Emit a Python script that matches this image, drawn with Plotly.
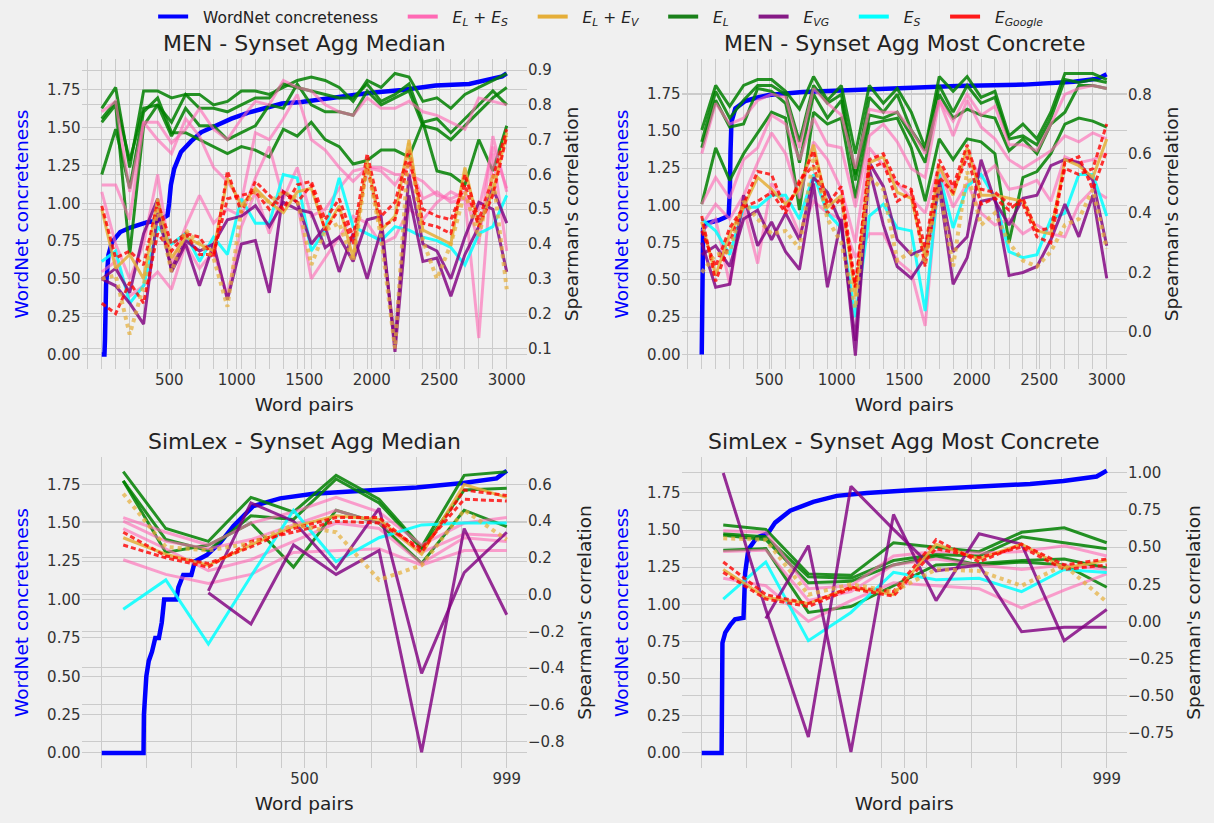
import plotly.graph_objects as go

# ------------------------------------------------------------------ data
# word-pair positions of the correlation points
men_pairs = [0, 103, 207, 310, 414, 517, 621, 724, 828, 931, 1034, 1138, 1241, 1345, 1448,
             1552, 1655, 1759, 1862, 1966, 2069, 2172, 2276, 2379, 2483, 2586, 2690, 2793, 2897, 3000]
simlex_pairs = [53, 158, 263, 368, 473, 578, 684, 789, 894, 999]

# x ticks (gridlines) and labelled ticks
men_grid = [-103, 0, 103, 207, 310, 414, 517, 621, 724, 828, 931, 1034, 1138, 1241, 1345, 1448,
            1552, 1655, 1759, 1862, 1966, 2069, 2172, 2276, 2379, 2483, 2586, 2690, 2793, 2897, 3000]
men_labels = [500, 1000, 1500, 2000, 2500, 3000]
simlex_grid = [0, 111, 222, 333, 444, 555, 666, 777, 888, 999]
simlex_labels = [500, 999]

# ---- WordNet concreteness (sorted) ----
men_med_wn_x = [0, 20, 24, 28, 32, 50, 75, 100, 137, 212, 337, 424, 487, 499, 512, 537, 587, 661, 736,
                836, 961, 1086, 1211, 1335, 1480, 1727, 1978, 2225, 2474, 2722, 2866, 2966, 2999]
men_med_wn_y = [0.0, 0.0, 0.10, 0.30, 0.46, 0.66, 0.74, 0.77, 0.81, 0.84, 0.875, 0.886, 0.92, 1.0, 1.12,
                1.23, 1.34, 1.41, 1.47, 1.51, 1.56, 1.60, 1.63, 1.66, 1.67, 1.70, 1.73, 1.75, 1.78, 1.79,
                1.82, 1.84, 1.86]
men_mc_wn_x = [0, 6, 10, 37, 124, 199, 208, 213, 220, 249, 323, 398, 497, 746, 995, 1467, 1890, 2388,
               2756, 2934, 2999]
men_mc_wn_y = [0.0, 0.45, 0.84, 0.88, 0.90, 0.93, 1.09, 1.36, 1.56, 1.65, 1.70, 1.72, 1.74, 1.76, 1.77,
               1.79, 1.80, 1.81, 1.83, 1.85, 1.88]
sl_med_wn_x = [0, 103, 104, 110, 116, 124, 132, 141, 148, 154, 184, 189, 201, 221, 230, 259, 292, 325,
               374, 440, 522, 662, 777, 892, 974, 999]
sl_med_wn_y = [0.0, 0.0, 0.25, 0.5, 0.6, 0.66, 0.75, 0.75, 0.85, 1.0, 1.0, 1.08, 1.16, 1.16, 1.25, 1.29,
               1.37, 1.48, 1.61, 1.66, 1.69, 1.71, 1.73, 1.76, 1.79, 1.84]
sl_mc_wn_x = [0, 49, 51, 58, 70, 82, 103, 107, 115, 136, 164, 181, 218, 275, 333, 407, 522, 670, 810,
              892, 974, 999]
sl_mc_wn_y = [0.0, 0.0, 0.74, 0.81, 0.86, 0.90, 0.91, 1.21, 1.37, 1.45, 1.48, 1.55, 1.63, 1.69, 1.73,
              1.75, 1.77, 1.79, 1.81, 1.83, 1.86, 1.90]

# ---- MEN - Synset Agg Median : Spearman's correlation ----
men_med_EL = [
    [0.79, 0.85, 0.62, 0.84, 0.84, 0.82, 0.83, 0.83, 0.80, 0.81, 0.84, 0.84, 0.83, 0.85, 0.87,
     0.88, 0.87, 0.85, 0.81, 0.87, 0.85, 0.89, 0.88, 0.81, 0.82, 0.79, 0.83, 0.85, 0.87, 0.89],
    [0.76, 0.81, 0.64, 0.79, 0.80, 0.75, 0.83, 0.79, 0.79, 0.78, 0.80, 0.82, 0.82, 0.86, 0.85,
     0.84, 0.83, 0.82, 0.82, 0.86, 0.81, 0.83, 0.86, 0.75, 0.76, 0.72, 0.76, 0.80, 0.84, 0.80],
    [0.75, 0.80, 0.37, 0.74, 0.80, 0.71, 0.79, 0.74, 0.74, 0.70, 0.72, 0.74, 0.80, 0.79, 0.86,
     0.80, 0.78, 0.78, 0.77, 0.84, 0.80, 0.82, 0.84, 0.74, 0.73, 0.70, 0.74, 0.78, 0.82, 0.85],
    [0.60, 0.73, 0.56, 0.78, 0.82, 0.72, 0.72, 0.70, 0.68, 0.66, 0.68, 0.67, 0.65, 0.73, 0.71,
     0.75, 0.70, 0.68, 0.63, 0.64, 0.67, 0.67, 0.65, 0.75, 0.61, 0.60, 0.57, 0.70, 0.61, 0.74],
]
men_med_ELES = [
    [0.78, 0.81, 0.55, 0.75, 0.75, 0.69, 0.73, 0.79, 0.73, 0.70, 0.76, 0.81, 0.80, 0.87, 0.85,
     0.84, 0.80, 0.78, 0.77, 0.82, 0.79, 0.79, 0.81, 0.78, 0.77, 0.75, 0.73, 0.82, 0.81, 0.80],
    [0.57, 0.57, 0.47, 0.75, 0.70, 0.66, 0.76, 0.71, 0.62, 0.58, 0.52, 0.72, 0.70, 0.76, 0.83,
     0.70, 0.67, 0.62, 0.58, 0.62, 0.62, 0.60, 0.60, 0.58, 0.54, 0.53, 0.55, 0.40, 0.71, 0.55],
    [0.32, 0.35, 0.25, 0.28, 0.32, 0.27, 0.40, 0.33, 0.38, 0.25, 0.45, 0.55, 0.43, 0.55, 0.52,
     0.30, 0.36, 0.42, 0.48, 0.46, 0.40, 0.42, 0.50, 0.47, 0.52, 0.55, 0.53, 0.13, 0.66, 0.38],
    [0.55, 0.40, 0.30, 0.40, 0.60, 0.34, 0.45, 0.54, 0.46, 0.50, 0.48, 0.59, 0.68, 0.53, 0.62,
     0.48, 0.50, 0.56, 0.61, 0.62, 0.61, 0.57, 0.63, 0.53, 0.55, 0.52, 0.53, 0.50, 0.68, 0.56],
]
men_med_EVG = [
    [0.30, 0.33, 0.26, 0.43, 0.53, 0.32, 0.40, 0.28, 0.40, 0.47, 0.48, 0.51, 0.45, 0.52, 0.50,
     0.49, 0.39, 0.42, 0.35, 0.47, 0.48, 0.09, 0.54, 0.35, 0.36, 0.25, 0.37, 0.45, 0.56, 0.46],
    [0.30, 0.28, 0.23, 0.17, 0.49, 0.33, 0.41, 0.38, 0.40, 0.24, 0.40, 0.41, 0.26, 0.55, 0.52,
     0.40, 0.45, 0.32, 0.43, 0.30, 0.44, 0.12, 0.60, 0.40, 0.38, 0.30, 0.42, 0.52, 0.50, 0.32],
]
men_med_ES = [
    [0.35, 0.38, 0.23, 0.28, 0.45, 0.40, 0.43, 0.35, 0.42, 0.37, 0.53, 0.46, 0.46, 0.60, 0.59,
     0.38, 0.44, 0.59, 0.45, 0.43, 0.41, 0.45, 0.44, 0.42, 0.41, 0.39, 0.34, 0.43, 0.45, 0.54],
]
men_med_ELEV = [
    [0.50, 0.33, 0.37, 0.30, 0.53, 0.36, 0.42, 0.40, 0.38, 0.59, 0.51, 0.56, 0.52, 0.49, 0.55,
     0.56, 0.44, 0.51, 0.36, 0.64, 0.44, 0.48, 0.70, 0.44, 0.42, 0.40, 0.62, 0.45, 0.55, 0.72],
]
men_med_ELEV_dot = [
    [0.30, 0.31, 0.14, 0.28, 0.50, 0.32, 0.44, 0.40, 0.36, 0.22, 0.50, 0.55, 0.52, 0.55, 0.53,
     0.34, 0.44, 0.46, 0.35, 0.63, 0.42, 0.10, 0.69, 0.41, 0.30, 0.40, 0.55, 0.42, 0.60, 0.27],
]
men_med_EG = [
    [0.51, 0.36, 0.38, 0.34, 0.52, 0.40, 0.43, 0.42, 0.36, 0.61, 0.49, 0.58, 0.54, 0.50, 0.57,
     0.58, 0.47, 0.53, 0.42, 0.66, 0.48, 0.52, 0.67, 0.46, 0.45, 0.43, 0.60, 0.47, 0.59, 0.73],
    [0.23, 0.20, 0.29, 0.23, 0.43, 0.38, 0.43, 0.37, 0.37, 0.53, 0.54, 0.55, 0.50, 0.55, 0.52,
     0.57, 0.44, 0.50, 0.40, 0.62, 0.45, 0.47, 0.64, 0.50, 0.48, 0.47, 0.57, 0.45, 0.54, 0.71],
]

# ---- MEN - Synset Agg Most Concrete ----
men_mc_EL = [
    [0.68, 0.83, 0.76, 0.83, 0.85, 0.85, 0.81, 0.75, 0.86, 0.78, 0.83, 0.60, 0.83, 0.77, 0.82,
     0.74, 0.62, 0.86, 0.81, 0.86, 0.79, 0.81, 0.66, 0.70, 0.65, 0.74, 0.87, 0.87, 0.87, 0.85],
    [0.64, 0.81, 0.72, 0.78, 0.83, 0.83, 0.80, 0.64, 0.83, 0.77, 0.80, 0.53, 0.79, 0.74, 0.80,
     0.68, 0.61, 0.83, 0.74, 0.83, 0.77, 0.79, 0.65, 0.66, 0.63, 0.72, 0.85, 0.84, 0.85, 0.84],
    [0.62, 0.78, 0.69, 0.70, 0.82, 0.81, 0.77, 0.57, 0.80, 0.72, 0.78, 0.51, 0.73, 0.72, 0.74,
     0.66, 0.57, 0.80, 0.72, 0.75, 0.73, 0.72, 0.61, 0.65, 0.60, 0.70, 0.74, 0.83, 0.83, 0.82],
    [0.43, 0.62, 0.51, 0.60, 0.67, 0.74, 0.72, 0.41, 0.74, 0.70, 0.72, 0.45, 0.70, 0.71, 0.72,
     0.62, 0.44, 0.65, 0.58, 0.65, 0.64, 0.60, 0.30, 0.52, 0.54, 0.60, 0.70, 0.72, 0.71, 0.69],
]
men_mc_ELES = [
    [0.60, 0.77, 0.70, 0.72, 0.78, 0.80, 0.79, 0.62, 0.82, 0.77, 0.73, 0.55, 0.75, 0.74, 0.74,
     0.68, 0.60, 0.78, 0.71, 0.80, 0.73, 0.76, 0.63, 0.63, 0.61, 0.70, 0.80, 0.82, 0.83, 0.82],
    [0.43, 0.52, 0.45, 0.58, 0.62, 0.73, 0.70, 0.58, 0.72, 0.63, 0.62, 0.42, 0.66, 0.70, 0.64,
     0.55, 0.52, 0.78, 0.66, 0.78, 0.69, 0.65, 0.58, 0.55, 0.58, 0.61, 0.66, 0.64, 0.67, 0.65],
    [0.36, 0.43, 0.38, 0.46, 0.57, 0.67, 0.60, 0.45, 0.64, 0.58, 0.48, 0.30, 0.62, 0.56, 0.50,
     0.45, 0.40, 0.56, 0.48, 0.60, 0.52, 0.56, 0.48, 0.49, 0.51, 0.44, 0.59, 0.57, 0.58, 0.60],
    [0.34, 0.38, 0.16, 0.42, 0.23, 0.50, 0.44, 0.33, 0.44, 0.40, 0.38, 0.25, 0.33, 0.33, 0.24,
     0.20, 0.02, 0.55, 0.42, 0.50, 0.40, 0.36, 0.38, 0.33, 0.36, 0.33, 0.32, 0.43, 0.48, 0.45],
]
men_mc_EVG = [
    [0.30, 0.15, 0.16, 0.46, 0.29, 0.37, 0.27, 0.21, 0.50, 0.15, 0.38, -0.08, 0.55, 0.36, 0.22,
     0.18, 0.25, 0.49, 0.16, 0.25, 0.44, 0.45, 0.19, 0.20, 0.22, 0.31, 0.43, 0.32, 0.46, 0.18],
    [0.26, 0.29, 0.22, 0.38, 0.41, 0.31, 0.40, 0.31, 0.52, 0.47, 0.36, -0.03, 0.57, 0.49, 0.31,
     0.26, 0.28, 0.51, 0.27, 0.32, 0.58, 0.44, 0.36, 0.45, 0.46, 0.56, 0.58, 0.57, 0.51, 0.29],
]
men_mc_ES = [
    [0.38, 0.34, 0.26, 0.42, 0.42, 0.46, 0.46, 0.38, 0.53, 0.40, 0.35, 0.05, 0.39, 0.43, 0.35,
     0.34, 0.07, 0.53, 0.35, 0.49, 0.53, 0.45, 0.27, 0.25, 0.26, 0.38, 0.40, 0.53, 0.53, 0.39],
]
men_mc_ELEV = [
    [0.37, 0.19, 0.33, 0.42, 0.52, 0.48, 0.43, 0.48, 0.63, 0.42, 0.46, 0.12, 0.57, 0.59, 0.47,
     0.45, 0.25, 0.56, 0.46, 0.62, 0.46, 0.46, 0.45, 0.44, 0.34, 0.33, 0.58, 0.56, 0.52, 0.65],
]
men_mc_ELEV_dot = [
    [0.20, 0.26, 0.27, 0.44, 0.38, 0.33, 0.34, 0.28, 0.59, 0.38, 0.30, 0.08, 0.52, 0.48, 0.24,
     0.27, 0.24, 0.49, 0.22, 0.54, 0.36, 0.40, 0.30, 0.24, 0.22, 0.27, 0.36, 0.38, 0.48, 0.28],
]
men_mc_EG = [
    [0.39, 0.17, 0.30, 0.43, 0.54, 0.53, 0.41, 0.50, 0.61, 0.43, 0.49, 0.15, 0.58, 0.60, 0.50,
     0.48, 0.28, 0.58, 0.49, 0.63, 0.48, 0.47, 0.43, 0.43, 0.32, 0.30, 0.57, 0.59, 0.48, 0.61],
    [0.34, 0.22, 0.35, 0.42, 0.44, 0.47, 0.40, 0.51, 0.56, 0.40, 0.45, 0.15, 0.55, 0.57, 0.44,
     0.47, 0.22, 0.52, 0.47, 0.59, 0.43, 0.45, 0.41, 0.45, 0.34, 0.35, 0.55, 0.53, 0.55, 0.70],
]

# ---- SimLex - Synset Agg Median ----
sl_med_EL = [
    [0.67, 0.36, 0.29, 0.53, 0.45, 0.65, 0.52, 0.26, 0.65, 0.67],
    [0.62, 0.30, 0.24, 0.43, 0.41, 0.63, 0.50, 0.25, 0.57, 0.58],
    [0.62, 0.23, 0.27, 0.39, 0.15, 0.46, 0.39, 0.17, 0.46, 0.37],
]
sl_med_ELES = [
    [0.42, 0.34, 0.27, 0.39, 0.45, 0.53, 0.45, 0.27, 0.39, 0.42],
    [0.40, 0.29, 0.25, 0.30, 0.38, 0.46, 0.39, 0.23, 0.33, 0.32],
    [0.36, 0.25, 0.13, 0.19, 0.29, 0.39, 0.36, 0.17, 0.31, 0.29],
    [0.19, 0.11, 0.06, 0.11, 0.23, 0.24, 0.25, 0.16, 0.24, 0.24],
]
sl_med_EVG = [
    [None, None, 0.01, -0.16, 0.27, 0.11, 0.24, -0.86, 0.36, -0.11],
    [None, None, 0.02, 0.50, 0.40, 0.14, 0.47, -0.43, 0.12, 0.34],
]
sl_med_ES = [
    [-0.08, 0.08, -0.27, 0.10, 0.46, 0.18, 0.31, 0.38, 0.39, 0.39],
]
sl_med_ELEV = [
    [0.31, 0.22, 0.16, 0.27, 0.37, 0.43, 0.41, 0.22, 0.60, 0.53],
]
sl_med_ELEV_dot = [
    [0.55, 0.26, 0.24, 0.28, 0.38, 0.34, 0.08, 0.16, 0.46, 0.30],
]
sl_med_EG = [
    [0.34, 0.21, 0.17, 0.26, 0.36, 0.42, 0.42, 0.23, 0.57, 0.54],
    [0.27, 0.20, 0.15, 0.29, 0.34, 0.40, 0.39, 0.25, 0.52, 0.51],
]

# ---- SimLex - Synset Agg Most Concrete ----
sl_mc_EL = [
    [0.65, 0.62, 0.32, 0.31, 0.53, 0.50, 0.47, 0.60, 0.63, 0.53],
    [0.59, 0.57, 0.30, 0.29, 0.41, 0.45, 0.44, 0.57, 0.53, 0.49],
    [0.58, 0.55, 0.26, 0.27, 0.38, 0.44, 0.38, 0.40, 0.38, 0.23],
    [0.48, 0.49, 0.06, 0.10, 0.24, 0.38, 0.39, 0.41, 0.42, 0.36],
]
sl_mc_ELES = [
    [0.61, 0.60, 0.22, 0.24, 0.44, 0.47, 0.46, 0.47, 0.51, 0.44],
    [0.47, 0.48, 0.14, 0.20, 0.38, 0.42, 0.38, 0.35, 0.38, 0.35],
    [0.29, 0.24, 0.00, 0.14, 0.26, 0.24, 0.22, 0.09, 0.21, 0.32],
]
sl_mc_EVG = [
    [1.00, 0.08, -0.78, 0.91, 0.62, 0.34, 0.38, -0.07, -0.04, -0.04],
    [None, 0.02, 0.51, -0.88, 0.72, 0.14, 0.59, 0.52, -0.13, 0.08],
]
sl_mc_ES = [
    [0.15, 0.40, -0.13, 0.06, 0.33, 0.28, 0.29, 0.20, 0.35, 0.33],
]
sl_mc_ELEV = [
    [0.35, 0.16, 0.12, 0.23, 0.18, 0.52, 0.42, 0.52, 0.36, 0.41],
]
sl_mc_ELEV_dot = [
    [0.56, 0.55, 0.18, 0.25, 0.20, 0.35, 0.34, 0.24, 0.38, 0.13],
]
sl_mc_EG = [
    [0.40, 0.18, 0.12, 0.23, 0.20, 0.55, 0.40, 0.52, 0.38, 0.42],
    [0.33, 0.15, 0.10, 0.22, 0.17, 0.49, 0.43, 0.50, 0.35, 0.38],
]

titles = ["MEN - Synset Agg Median", "MEN - Synset Agg Most Concrete",
          "SimLex - Synset Agg Median", "SimLex - Synset Agg Most Concrete"]
legend_names = ["WordNet concreteness",
                "<i>E</i><sub><i>L</i></sub> + <i>E</i><sub><i>S</i></sub>",
                "<i>E</i><sub><i>L</i></sub> + <i>E</i><sub><i>V</i></sub>",
                "<i>E</i><sub><i>L</i></sub>",
                "<i>E</i><sub><i>VG</i></sub>",
                "<i>E</i><sub><i>S</i></sub>",
                "<i>E</i><sub><i>Google</i></sub>"]

# ------------------------------------------------------------------ styles
W, H = 1214, 823
FONT = "DejaVu Sans"
BG = "#f0f0f0"
GRID = "#cbcbcb"
TXT = "#333333"
NB = "\u00a0"

STY = {
    "EL": dict(color="rgba(0,128,0,0.85)", width=3),
    "ELES": dict(color="rgba(255,105,180,0.62)", width=3),
    "ES": dict(color="rgba(0,255,255,0.85)", width=3),
    "EVG": dict(color="rgba(128,0,128,0.82)", width=3),
    "ELEV": dict(color="rgba(229,174,56,0.85)", width=3),
    "EG": dict(color="rgba(255,0,0,0.8)", width=3, dash="5px,3px"),
    "ELEV_dot": dict(color="rgba(229,174,56,0.7)", width=4, dash="dot"),
}
legend_colors = ["#0000ff", "#ff69b4", "#e5ae38", "#1a801a", "#861a86", "#00ffff", "#ff1a1a"]

cols = [(81.5, 527.0), (681.5, 1127.0)]
rows = [(56.5, 367.0), (456.0, 767.5)]


def span(va, pa, vb, pb, p_lo, p_hi):
    k = (vb - va) / (pb - pa)
    return [va + (p_lo - pa) * k, va + (p_hi - pa) * k]


panels = [
    dict(col=0, row=0, pairs=men_pairs, wn=(men_med_wn_x, men_med_wn_y),
         groups=dict(EL=men_med_EL, ELES=men_med_ELES, ES=men_med_ES, EVG=men_med_EVG,
                     ELEV=men_med_ELEV, EG=men_med_EG, ELEV_dot=men_med_ELEV_dot),
         xr=[-150, 3150], grid=men_grid, lab=men_labels,
         y1=(0.0, 352.7, 1.75, 87.3), y2=(0.1, 346.7, 0.9, 67.3), d2=0.1, f2=".1f"),
    dict(col=1, row=0, pairs=men_pairs, wn=(men_mc_wn_x, men_mc_wn_y),
         groups=dict(EL=men_mc_EL, ELES=men_mc_ELES, ES=men_mc_ES, EVG=men_mc_EVG,
                     ELEV=men_mc_ELEV, EG=men_mc_EG, ELEV_dot=men_mc_ELEV_dot),
         xr=[-150, 3150], grid=men_grid, lab=men_labels,
         y1=(0.0, 352.7, 1.75, 90.9), y2=(0.0, 330.0, 0.8, 91.7), d2=0.2, f2=".1f"),
    dict(col=0, row=1, pairs=simlex_pairs, wn=(sl_med_wn_x, sl_med_wn_y),
         groups=dict(EL=sl_med_EL, ELES=sl_med_ELES, ES=sl_med_ES, EVG=sl_med_EVG,
                     ELEV=sl_med_ELEV, EG=sl_med_EG, ELEV_dot=sl_med_ELEV_dot),
         xr=[-49.95, 1048.95], grid=simlex_grid, lab=simlex_labels,
         y1=(0.0, 752.7, 1.75, 483.3), y2=(-0.8, 741.0, 0.6, 483.3), d2=0.2, f2=".1f"),
    dict(col=1, row=1, pairs=simlex_pairs, wn=(sl_mc_wn_x, sl_mc_wn_y),
         groups=dict(EL=sl_mc_EL, ELES=sl_mc_ELES, ES=sl_mc_ES, EVG=sl_mc_EVG,
                     ELEV=sl_mc_ELEV, EG=sl_mc_EG, ELEV_dot=sl_mc_ELEV_dot),
         xr=[-49.95, 1048.95], grid=simlex_grid, lab=simlex_labels,
         y1=(0.0, 752.7, 1.75, 491.7), y2=(-0.75, 732.3, 1.0, 471.7), d2=0.25, f2=".2f"),
]

fig = go.Figure()

# legend-only entries
for name, c in zip(legend_names, legend_colors):
    fig.add_trace(go.Scatter(x=[None], y=[None], mode="lines",
                             name=NB * 2 + name + NB * 4,
                             line=dict(color=c, width=4), xaxis="x", yaxis="y",
                             showlegend=True, hoverinfo="skip"))

layout = dict(
    width=W, height=H, paper_bgcolor=BG, plot_bgcolor=BG,
    margin=dict(l=0, r=0, t=0, b=0),
    font=dict(family=FONT, size=15, color=TXT),
    showlegend=True,
    legend=dict(orientation="h", x=0.503, xanchor="center", y=1.004, yanchor="top",
                bgcolor="rgba(0,0,0,0)", font=dict(size=15.5, color="#222"),
                itemwidth=30, tracegroupgap=0),
    annotations=[],
)

order = ["EL", "ELES", "ES", "EVG", "ELEV", "EG", "ELEV_dot"]

for i, p in enumerate(panels):
    xn = "" if i == 0 else str(i + 1)
    y1n = "" if i == 0 else str(2 * i + 1)
    y2n = str(2 * i + 2)
    x0, x1 = cols[p["col"]]
    top, bot = rows[p["row"]]
    xdom = [x0 / W, x1 / W]
    ydom = [1 - bot / H, 1 - top / H]

    # concreteness curve (left axis)
    fig.add_trace(go.Scatter(x=p["wn"][0], y=p["wn"][1], mode="lines",
                             line=dict(color="#0000ff", width=4.5),
                             xaxis="x" + xn, yaxis="y" + y1n, showlegend=False,
                             hoverinfo="skip"))
    # correlation curves (right axis)
    for g in order:
        for series in p["groups"][g]:
            fig.add_trace(go.Scatter(x=p["pairs"], y=series, mode="lines",
                                     line=STY[g], xaxis="x" + xn, yaxis="y" + y2n,
                                     showlegend=False, hoverinfo="skip",
                                     connectgaps=False))

    tickvals = sorted(set(p["grid"]) | set(p["lab"]))
    ticktext = [str(v) if v in p["lab"] else "" for v in tickvals]
    layout["xaxis" + xn] = dict(
        domain=xdom, anchor="y" + y1n, range=p["xr"], tickmode="array",
        tickvals=tickvals, ticktext=ticktext, showgrid=True, gridcolor=GRID, gridwidth=1.3,
        zeroline=False, showline=False, ticks="", tickfont=dict(size=15, color=TXT),
        title=dict(text="Word pairs", font=dict(size=18.5, color="#222"), standoff=10),
    )
    va, pa, vb, pb = p["y1"]
    layout["yaxis" + y1n] = dict(
        domain=ydom, anchor="x" + xn, range=span(va, pa, vb, pb, bot, top),
        tick0=0, dtick=0.25, tickformat=".2f", showgrid=True, gridcolor=GRID, gridwidth=1.3,
        zeroline=False, showline=False, ticks="", tickfont=dict(size=15, color=TXT),
        title=dict(text="WordNet concreteness", font=dict(size=18.5, color="#0000ff"),
                   standoff=13),
    )
    va, pa, vb, pb = p["y2"]
    layout["yaxis" + y2n] = dict(
        overlaying="y" + y1n, anchor="x" + xn, side="right",
        range=span(va, pa, vb, pb, bot, top),
        tick0=0, dtick=p["d2"], tickformat=p["f2"], showgrid=True, gridcolor=GRID,
        gridwidth=1.3, zeroline=False, showline=False, ticks="",
        tickfont=dict(size=15, color=TXT),
        title=dict(text="Spearman's correlation", font=dict(size=18.5, color="#222"),
                   standoff=14),
    )
    layout["annotations"].append(dict(
        text=titles[i], x=(x0 + x1) / 2 / W, y=1 - top / H, xref="paper", yref="paper",
        xanchor="center", yanchor="bottom", yshift=1, showarrow=False,
        font=dict(size=22, color="#222", family=FONT)))

fig.update_layout(**layout)
fig.write_html("out.html")
